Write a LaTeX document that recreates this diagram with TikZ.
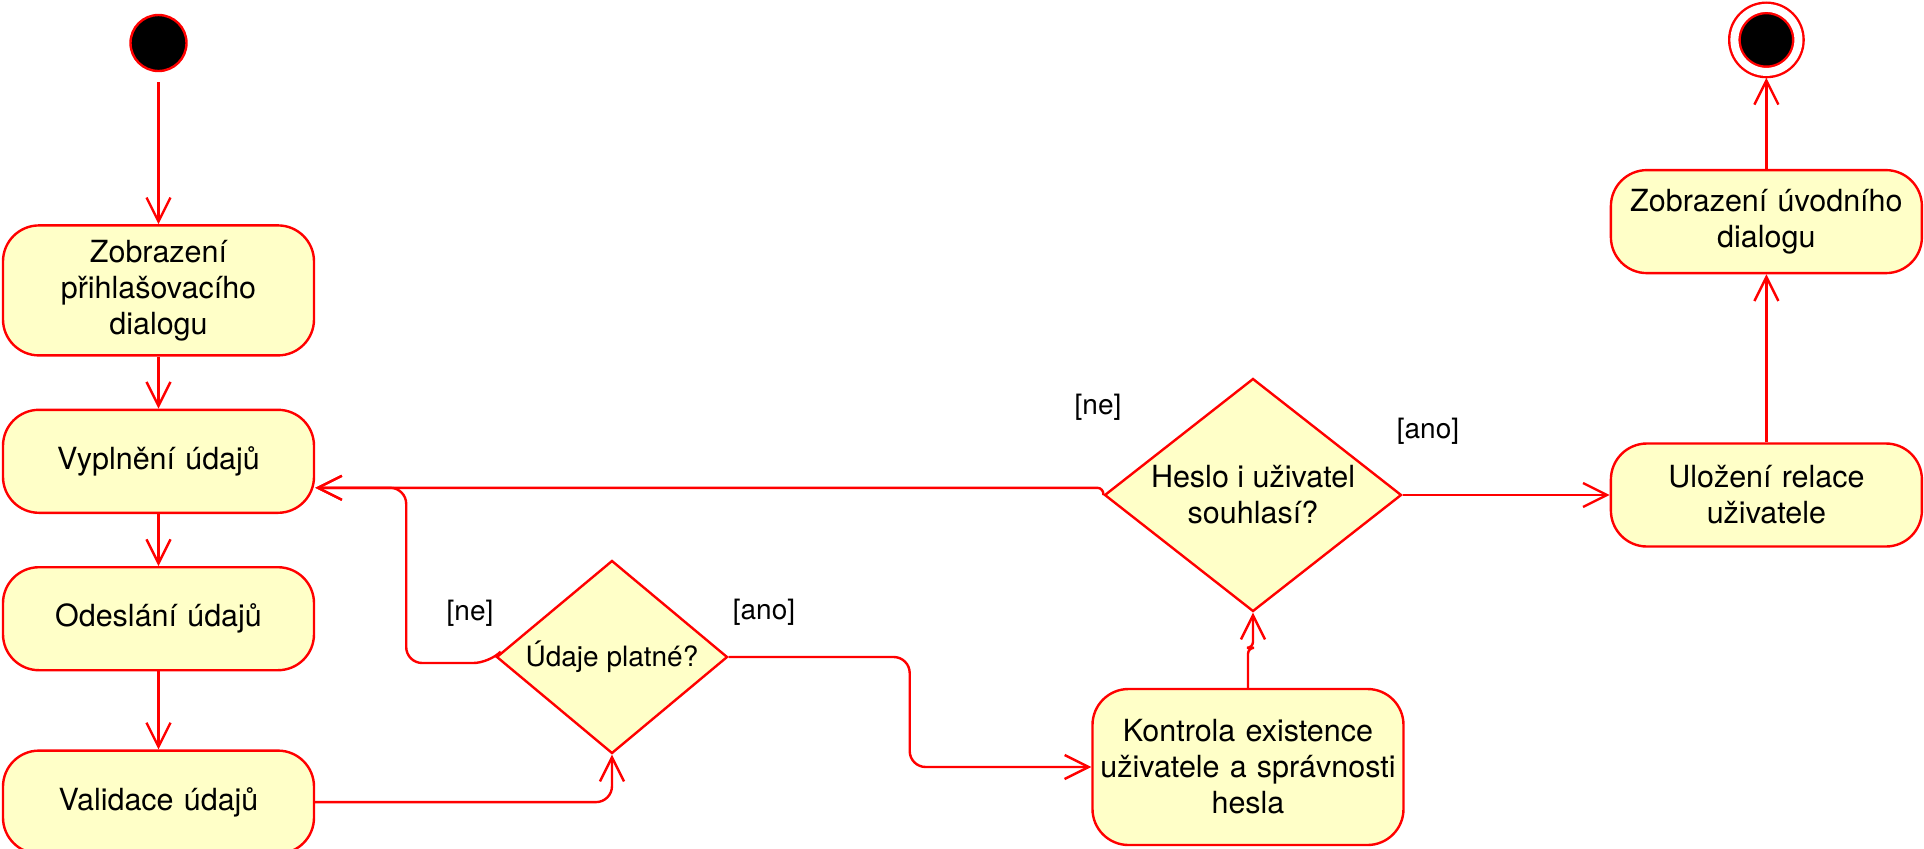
\documentclass[tikz,border=0pt]{standalone}
\usepackage{fontspec}
\setmainfont{TeX Gyre Heros}
\usepackage{tikz}
\usetikzlibrary{positioning,calc,arrows.meta,shapes.geometric}
\definecolor{umlred}{RGB}{255,0,0}
\definecolor{umlyellow}{RGB}{255,255,200}
\tikzstyle{activity} = [rectangle, rounded corners=18pt, draw=umlred, fill=umlyellow, line width=1.2pt, minimum width=155.5pt, minimum height=51.5pt, text width=150pt, inner xsep=2pt, align=center, font=\fontsize{15.25pt}{18pt}\selectfont]
\tikzstyle{decision} = [diamond, draw=umlred, fill=umlyellow, line width=1.2pt, inner sep=0pt, align=center, font=\fontsize{15.25pt}{18pt}\selectfont]
\tikzstyle{startnode} = [circle, draw=umlred, fill=black, line width=1.2pt, minimum size=28pt, inner sep=0pt]
\tikzstyle{stopnode} = [circle, draw=umlred, fill=black, line width=1.2pt, double=white, double distance=4pt, minimum size=32pt, inner sep=0pt, outer sep=3pt]
\tikzstyle{guard} = [inner sep=0pt, font=\fontsize{14pt}{16pt}\selectfont]
\tikzstyle{line} = [draw=umlred, line width=1.2pt, rounded corners=8pt, -{Straight Barb[length=12pt,width=12pt]}]

\begin{document}
\begin{tikzpicture}[auto,node distance=26pt,x=0.5pt,y=-0.5pt]
           \useasboundingbox (0,0) rectangle (1924,848);
           \node[startnode] (start) at (158.5,43) {};
           \node[activity, minimum height=65pt] (zobrazeni) [below = 76pt of start] {Zobrazení\\přihlašovacího\\dialogu};
           \node[activity] (vyplneni) [below = of zobrazeni] {Vyplnění údajů};
           \node[activity] (odeslani) [below = of vyplneni] {Odeslání údajů};
           \node[activity] (validace) [below = 39pt of odeslani] {Validace údajů};
           \node[decision, aspect=1.2, minimum width=115.5pt, minimum height=96.5pt, font=\fontsize{14pt}{16pt}\selectfont] (udaje) at (612,657) {Údaje platné?};
           \node[activity, minimum height=78pt] (kontrola) at (1248,767) {Kontrola existence\\uživatele a správnosti\\hesla};
           \node[decision, aspect=1.3, minimum width=148.5pt, minimum height=116.5pt] (heslo) at (1253,495) {Heslo i uživatel\\souhlasí?};
           \node[activity] (ulozeni) [right = 103.5pt of heslo] {Uložení relace\\uživatele};
           \node[activity] (uvod) [above = 84pt of ulozeni] {Zobrazení úvodního\\dialogu};
           \node[stopnode] (stop) [above = 45.5pt of uvod] {};
           \node[guard] (ne1) at (470,613) {[ne]};
           \node[guard] (ano1) at (764,612) {[ano]};
           \node[guard] (ne2) at (1098,407) {[ne]};
           \node[guard] (ano2) at (1428,431) {[ano]};
           \coordinate (vin) at ([yshift=-13.25pt]vyplneni.east);
           \path[line, shorten <=5pt] (start) -- (zobrazeni);
           \path[line] (zobrazeni) -- (vyplneni);
           \path[line] (vyplneni) -- (odeslani);
           \path[line] (odeslani) -- (validace);
           \path[line] (validace.east) -| (udaje.south);
           \path[line] (udaje.west) -- ++(-6,6) -| ([xshift=45.5pt]vin) -- (vin);
           \path[line, rounded corners=3pt] (heslo.west) |- (vin);
           \path[line] (udaje.east) -- ++(181,0) |- (kontrola.west);
           \path[line, rounded corners=3pt] (kontrola.north) -- ++(0,-40) -| (heslo.south);
           \path[line] (heslo.east) -- (ulozeni.west);
           \path[line] (ulozeni) -- (uvod);
           \path[line] (uvod) -- (stop);
        \end{tikzpicture}
\end{document}
